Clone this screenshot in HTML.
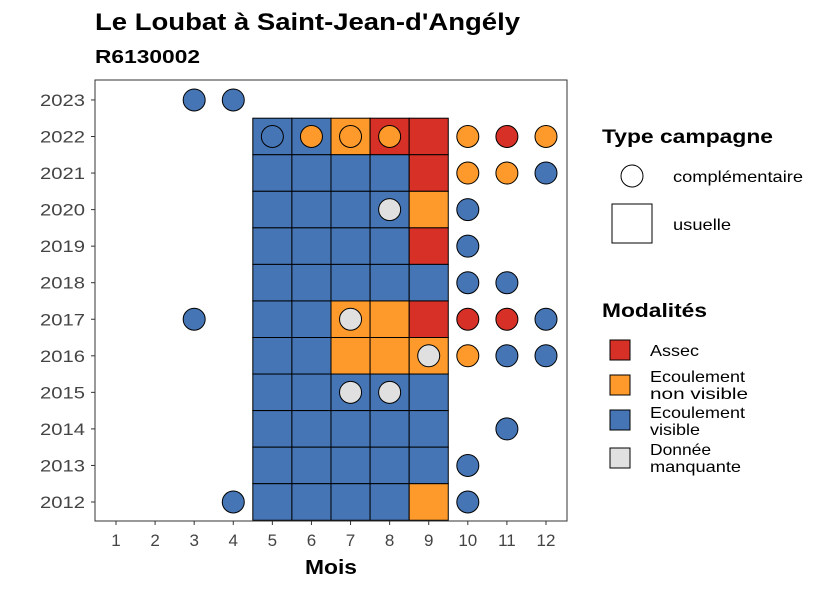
<!DOCTYPE html>
<html><head><meta charset="utf-8"><style>
body{margin:0;background:#fff;font-family:"Liberation Sans",Arial,sans-serif}
svg text{font-family:"Liberation Sans",Arial,sans-serif}
</style></head><body>
<svg id="c" width="826" height="590" viewBox="0 0 826 590" xmlns="http://www.w3.org/2000/svg">
<text x="95" y="30" font-size="24" font-weight="bold" textLength="425" lengthAdjust="spacingAndGlyphs">Le Loubat à Saint-Jean-d'Angély</text>
<text x="95" y="63" font-size="18" font-weight="bold" textLength="105" lengthAdjust="spacingAndGlyphs">R6130002</text>
<g id="plot"></g>
<rect x="95" y="80" width="472" height="441" fill="none" stroke="#333" stroke-width="1"/>
<text x="331" y="574" font-size="20" font-weight="bold" text-anchor="middle" textLength="52" lengthAdjust="spacingAndGlyphs">Mois</text>
<g>
<text x="602" y="143" font-size="19" font-weight="bold" textLength="171" lengthAdjust="spacingAndGlyphs">Type campagne</text>
<circle cx="632" cy="176" r="11" fill="#fff" stroke="#000"/>
<text x="673" y="182" font-size="16" textLength="130" lengthAdjust="spacingAndGlyphs">complémentaire</text>
<rect x="612" y="204" width="40" height="39" fill="#fff" stroke="#000"/>
<text x="673" y="230" font-size="16" textLength="58" lengthAdjust="spacingAndGlyphs">usuelle</text>
</g>
<g>
<text x="602" y="317" font-size="19" font-weight="bold" textLength="105" lengthAdjust="spacingAndGlyphs">Modalités</text>
<rect x="610" y="340" width="20" height="20" fill="#d73027" stroke="#000"/>
<text x="650" y="356" font-size="16" textLength="49" lengthAdjust="spacingAndGlyphs">Assec</text>
<rect x="610" y="375" width="20" height="20" fill="#fd9a2b" stroke="#000"/>
<text x="650" y="382" font-size="16" textLength="95" lengthAdjust="spacingAndGlyphs">Ecoulement</text><text x="650" y="399" font-size="16" textLength="98" lengthAdjust="spacingAndGlyphs">non visible</text>
<rect x="610" y="410" width="20" height="20" fill="#4575b4" stroke="#000"/>
<text x="650" y="418" font-size="16" textLength="95" lengthAdjust="spacingAndGlyphs">Ecoulement</text><text x="650" y="435" font-size="16" textLength="50" lengthAdjust="spacingAndGlyphs">visible</text>
<rect x="610" y="448" width="20" height="20" fill="#e0e0e0" stroke="#000"/>
<text x="650" y="455" font-size="16" textLength="61" lengthAdjust="spacingAndGlyphs">Donnée</text><text x="650" y="472" font-size="16" textLength="91" lengthAdjust="spacingAndGlyphs">manquante</text>
</g>
</svg>
<script>
const months=[1,2,3,4,5,6,7,8,9,10,11,12];
const years=[2012,2013,2014,2015,2016,2017,2018,2019,2020,2021,2022,2023];
const colors={A:"#d73027",N:"#fd9a2b",V:"#4575b4",M:"#e0e0e0"};
const tileYears=[2022,2021,2020,2019,2018,2017,2016,2015,2014,2013,2012];
const tileMonths=[5,6,7,8,9];
const tileVals=["VVNAA","VVVVA","VVVVN","VVVVA","VVVVV","VVNNA","VVNNN","VVVVV","VVVVV","VVVVV","VVVVN"];
const pts=[[2023,3,"V"],[2023,4,"V"],[2022,5,"V"],[2022,6,"N"],[2022,7,"N"],[2022,8,"N"],[2022,10,"N"],[2022,11,"A"],[2022,12,"N"],
[2021,10,"N"],[2021,11,"N"],[2021,12,"V"],[2020,8,"M"],[2020,10,"V"],[2019,10,"V"],[2018,10,"V"],[2018,11,"V"],
[2017,3,"V"],[2017,7,"M"],[2017,10,"A"],[2017,11,"A"],[2017,12,"V"],[2016,9,"M"],[2016,10,"N"],[2016,11,"V"],[2016,12,"V"],
[2015,7,"M"],[2015,8,"M"],[2014,11,"V"],[2013,10,"V"],[2012,4,"V"],[2012,10,"V"]];
const X=m=>116+(m-1)*39.09, Y=y=>502-(y-2012)*36.55;
const g=document.getElementById('plot'),NS="http://www.w3.org/2000/svg";
function mk(t,a){const e=document.createElementNS(NS,t);for(const k in a)e.setAttribute(k,a[k]);g.appendChild(e);return e;}
tileYears.forEach((yr,i)=>tileMonths.forEach((m,j)=>{
 const r=mk('rect',{x:X(m)-19.55,y:Y(yr)-18.3,width:39.09,height:36.55,fill:colors[tileVals[i][j]],stroke:"#000"});
 
 
}));
pts.forEach(p=>{
 const c=mk('circle',{cx:X(p[1]),cy:Y(p[0]),r:11,fill:colors[p[2]],stroke:"#000"});
 
 
});
months.forEach(m=>{
 mk('line',{x1:X(m),x2:X(m),y1:521,y2:525,stroke:"#333"});
 const t=mk('text',{x:X(m),y:546,"font-size":17,"text-anchor":"middle",fill:"#444"});t.textContent=m;
 
 
});
years.forEach(y=>{
 mk('line',{x1:91,x2:95,y1:Y(y),y2:Y(y),stroke:"#333"});
 const t=mk('text',{x:85,y:Y(y)+6,"font-size":17,"text-anchor":"end",fill:"#444",textLength:45,lengthAdjust:"spacingAndGlyphs"});t.textContent=y;
 
 
});
</script>
</body></html>
